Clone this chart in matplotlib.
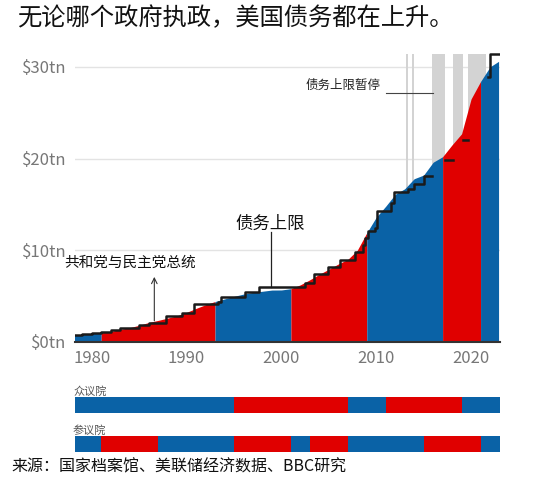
import matplotlib
matplotlib.use("Agg")
import matplotlib.pyplot as plt
import numpy as np

plt.rcParams['font.family'] = ['Noto Sans CJK SC', 'DejaVu Sans']
BLUE = '#0a62a6'; RED = '#e00000'; GRAY = '#d3d3d3'

years = [1978,1979,1980,1981,1982,1983,1984,1985,1986,1987,1988,1989,1990,1991,1992,1993,1994,1995,1996,1997,1998,1999,2000,2001,2002,2003,2004,2005,2006,2007,2008,2009,2010,2011,2012,2013,2014,2015,2016,2017,2018,2019,2020,2021,2022,2022.9]
debt = [0.77,0.83,0.91,1.0,1.14,1.37,1.56,1.82,2.12,2.35,2.6,2.86,3.23,3.66,4.06,4.41,4.69,4.97,5.22,5.41,5.53,5.66,5.67,5.81,6.23,6.78,7.38,7.93,8.5,9.0,10.0,11.9,13.6,14.8,16.1,16.7,17.8,18.2,19.6,20.2,21.5,22.7,26.5,28.4,30.0,30.6]

presidents = [(1978,1981,'D'),(1981,1993,'R'),(1993,2001,'D'),(2001,2009,'R'),(2009,2017,'D'),(2017,2021,'R'),(2021,2022.9,'D')]
house = [(1978,1995,'D'),(1995,2007,'R'),(2007,2011,'D'),(2011,2019,'R'),(2019,2023,'D')]
senate = [(1978,1981,'D'),(1981,1987,'R'),(1987,1995,'D'),(1995,2001,'R'),(2001,2003,'D'),(2003,2007,'R'),(2007,2015,'D'),(2015,2021,'R'),(2021,2023,'D')]

ceil_x = [1978,1979,1980,1981,1982,1983,1984,1985,1986,1987.8,1989.5,1990.8,1993.3,1993.6,1996.2,1997.6,2002.5,2003.4,2004.9,2006.2,2007.8,2008.6,2008.8,2009.1,2009.9,2010.1,2011.6,2011.9,2013.3,2014.0,2015.0,2015.9,2017.2,2018.1,2019.2,2019.7,2021.8,2021.95,2023.0]
ceil_y = [0.80,0.83,0.94,1.08,1.29,1.49,1.57,1.82,2.11,2.8,3.12,4.15,4.37,4.9,5.5,5.95,6.4,7.38,8.18,8.97,9.82,10.6,11.3,12.1,12.4,14.3,15.2,16.4,16.7,17.2,18.1,np.nan,19.8,np.nan,22.0,np.nan,28.9,31.4,31.4]
susp = [(2013.1,2013.3),(2013.8,2014.0),(2015.9,2017.2),(2018.1,2019.2),(2019.7,2021.6)]

col = {'D': BLUE, 'R': RED}
fig = plt.figure(figsize=(5.53,4.83), dpi=100)
fig.patch.set_facecolor('white')
ax = fig.add_axes([0.135,0.292,0.77,0.60])
for a,b in susp:
    ax.axvspan(a,b,ymin=0,ymax=31.4/31.6,color=GRAY,lw=0,zorder=1)
for v in [10,20,30]:
    ax.axhline(v,color='#e3e3e3',lw=1,zorder=0)
yr = np.array(years); dv = np.array(debt)
for a,b,p in presidents:
    xs = np.linspace(a,b,200)
    ax.fill_between(xs,0,np.interp(xs,yr,dv),color=col[p],lw=0,zorder=2)
ax.step(ceil_x,ceil_y,where='post',color='#1a1a1a',lw=1.8,zorder=3)
ax.set_xlim(1978.2,2023.1); ax.set_ylim(0,31.6)
ax.set_yticks([0,10,20,30]); ax.set_yticklabels(['$0tn','$10tn','$20tn','$30tn'])
ax.set_xticks([1980,1990,2000,2010,2020])
ax.tick_params(length=0,labelsize=12,colors='#777777',pad=6)
for s in ['top','right','left']: ax.spines[s].set_visible(False)
ax.spines['bottom'].set_color('#333333'); ax.spines['bottom'].set_linewidth(1.5)

ax.text(2002.5,28.0,'债务上限暂停',fontsize=9,ha='left',va='center',color='#222222')
ax.plot([2011,2016],[27.2,27.2],color='#444444',lw=0.8)
ax.text(1998.8,12.9,'债务上限',fontsize=12.5,ha='center',va='center',color='#111111')
ax.plot([1998.9,1998.9],[12.0,5.95],color='#222222',lw=0.9)
ax.text(1977.1,8.6,'共和党与民主党总统',fontsize=10.5,ha='left',va='center',color='#111111')
ax.annotate('',xy=(1986.6,7.4),xytext=(1986.6,2.0),arrowprops=dict(arrowstyle='->',color='#333333',lw=0.8))

for bot,data,label in [(0.145,house,'众议院'),(0.064,senate,'参议院')]:
    bx = fig.add_axes([0.135,bot,0.77,0.033])
    for a,b,p in data:
        bx.axvspan(a,b,color=col[p],lw=0)
    bx.set_xlim(1978.2,2023.1); bx.set_ylim(0,1); bx.axis('off')
    fig.text(0.132,bot+0.034,label,fontsize=8,color='#555555',ha='left',va='bottom')

fig.text(0.03,0.962,'无论哪个政府执政，美国债务都在上升。',fontsize=17.5,ha='left',va='center',color='#111111')
fig.text(0.02,0.033,'来源：国家档案馆、美联储经济数据、BBC研究',fontsize=11.5,ha='left',va='center',color='#111111')
fig.savefig('out.png',dpi=100)
